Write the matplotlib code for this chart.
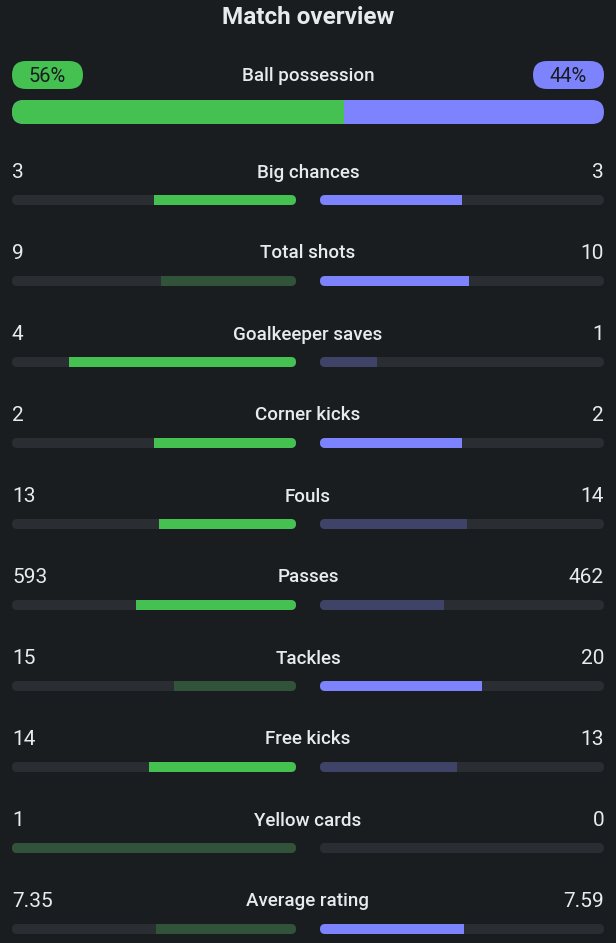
import matplotlib.pyplot as plt
from matplotlib.patches import FancyBboxPatch, Rectangle

plt.rcParams['font.family'] = ['Roboto', 'DejaVu Sans']

# Data
title = "Match overview"
possession_home = 56
possession_away = 44

stat_names = ["Big chances", "Total shots", "Goalkeeper saves", "Corner kicks", "Fouls",
              "Passes", "Tackles", "Free kicks", "Yellow cards", "Average rating"]
home_values = [3, 9, 4, 2, 13, 593, 15, 14, 1, 7.35]
away_values = [3, 10, 1, 2, 14, 462, 20, 13, 0, 7.59]
home_labels = ["3", "9", "4", "2", "13", "593", "15", "14", "1", "7.35"]
away_labels = ["3", "10", "1", "2", "14", "462", "20", "13", "0", "7.59"]
lower_is_better = ["Fouls", "Yellow cards"]

BG = "#191d20"
TRACK = "#2a2e32"
GREEN = "#45c152"
GREEN_DIM = "#305339"
BLUE = "#7c83fc"
BLUE_DIM = "#3f4368"
TEXT = "#e8eaec"
W, H = 616, 943

fig = plt.figure(figsize=(W / 100, H / 100), dpi=100, facecolor=BG)
ax = fig.add_axes([0, 0, 1, 1])
ax.set_xlim(0, W)
ax.set_ylim(H, 0)
ax.set_facecolor(BG)
ax.axis("off")

ax.text(W / 2, 18, title, ha="center", va="center", fontsize=17.5, fontweight="bold", color=TEXT)

# Possession pills
def pill(x, y, w, h, color):
    p = FancyBboxPatch((x, y), w, h, boxstyle=f"round,pad=0,rounding_size={h / 2}",
                       linewidth=0, facecolor=color)
    ax.add_patch(p)
    return p

pill(12, 61, 71, 28, GREEN)
pill(533, 61, 71, 28, BLUE)
ax.text(47.5, 76, f"{possession_home}%", ha="center", va="center", fontsize=14.5, color=BG)
ax.text(568.5, 76, f"{possession_away}%", ha="center", va="center", fontsize=14.5, color=BG)
ax.text(W / 2, 76, "Ball possession", ha="center", va="center", fontsize=13.5,
        fontweight="medium", color=TEXT)

# Possession bar
track = pill(12, 100, 592, 24, BLUE)
split = 12 + 592 * possession_home / (possession_home + possession_away)
r = Rectangle((12, 100), split - 12, 24, facecolor=GREEN, linewidth=0)
ax.add_patch(r)
r.set_clip_path(track)

# Stat rows
left_x0, left_x1 = 12, 296
right_x0, right_x1 = 320, 604
bar_w = left_x1 - left_x0
bar_h = 10
for i, name in enumerate(stat_names):
    ty = 172.5 + 81 * i
    by = 195 + 81 * i
    hv, av = home_values[i], away_values[i]
    ax.text(12, ty, home_labels[i], ha="left", va="center", fontsize=15, color=TEXT)
    ax.text(604, ty, away_labels[i], ha="right", va="center", fontsize=15, color=TEXT)
    ax.text(W / 2, ty, name, ha="center", va="center", fontsize=13.5, fontweight="medium", color=TEXT)

    total = hv + av
    hf = hv / total if total else 0
    af = av / total if total else 0
    if name in lower_is_better:
        home_best, away_best = hv <= av, av <= hv
    else:
        home_best, away_best = hv >= av, av >= hv

    lt = pill(left_x0, by, bar_w, bar_h, TRACK)
    rt = pill(right_x0, by, bar_w, bar_h, TRACK)
    if hf > 0:
        lf = Rectangle((left_x1 - bar_w * hf, by), bar_w * hf, bar_h, linewidth=0,
                       facecolor=GREEN if home_best else GREEN_DIM)
        ax.add_patch(lf)
        lf.set_clip_path(lt)
    if af > 0:
        rf = Rectangle((right_x0, by), bar_w * af, bar_h, linewidth=0,
                       facecolor=BLUE if away_best else BLUE_DIM)
        ax.add_patch(rf)
        rf.set_clip_path(rt)

fig.savefig("out.png", dpi=100, facecolor=BG)
